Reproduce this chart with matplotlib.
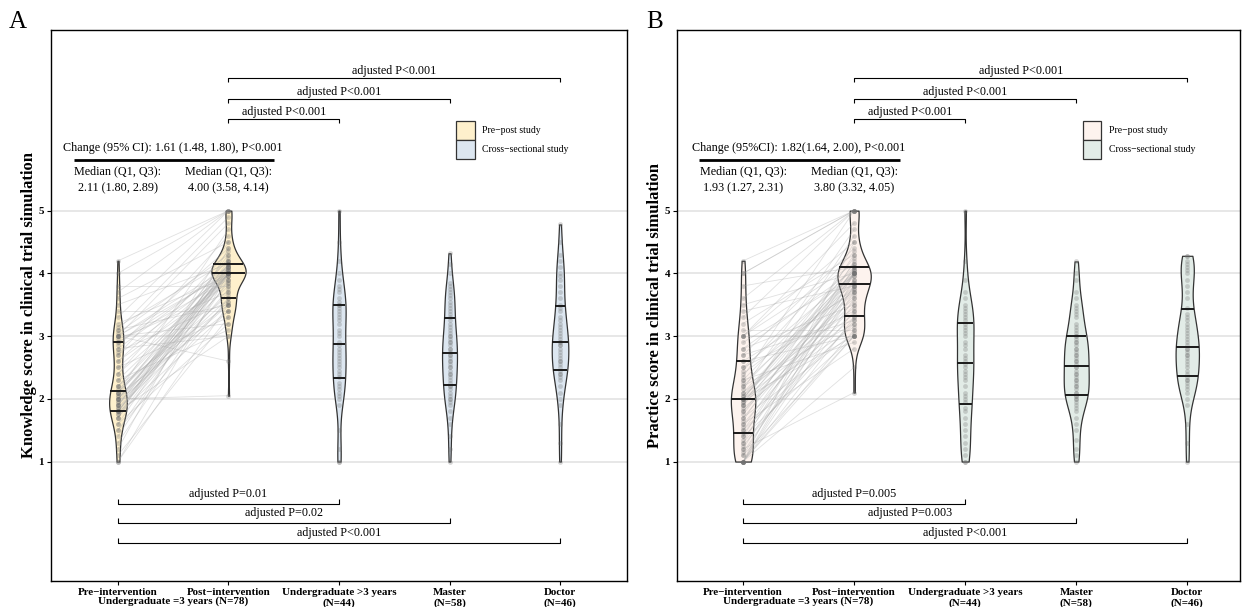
import numpy as np
import matplotlib
matplotlib.use("Agg")
import matplotlib.pyplot as plt
from matplotlib.patches import Patch

plt.rcParams['font.family'] = ['Liberation Serif', 'DejaVu Serif']

# ---------------- data ----------------
categories = ["Pre\u2212intervention", "Post\u2212intervention",
              "Undergraduate >3 years\n(N=44)", "Master\n(N=58)", "Doctor\n(N=46)"]
paired_label = "Undergraduate =3 years (N=78)"
legend_labels = ["Pre\u2212post study", "Cross\u2212sectional study"]

# Panel A: knowledge scores (pre/post paired, same participant order)
knowledge_pre = [
    1.0, 1.0, 1.1, 1.2, 1.3, 1.4, 1.5, 1.5, 1.6, 1.6,
    1.7, 1.7, 1.7, 1.75, 1.75, 1.8, 1.8, 1.8, 1.8, 1.8,
    1.85, 1.85, 1.9, 1.9, 1.9, 1.9, 1.95, 1.95, 2.0, 2.0,
    2.0, 2.0, 2.0, 2.05, 2.05, 2.1, 2.1, 2.1, 2.1, 2.15,
    2.2, 2.2, 2.2, 2.3, 2.3, 2.4, 2.4, 2.5, 2.5, 2.6,
    2.6, 2.7, 2.7, 2.75, 2.8, 2.8, 2.85, 2.9, 2.9, 2.95,
    3.0, 3.0, 3.0, 3.0, 3.0, 3.05, 3.1, 3.1, 3.15, 3.2,
    3.3, 3.4, 3.5, 3.6, 3.7, 3.8, 4.0, 4.2]
knowledge_post = [
    3.5, 4.0, 3.3, 4.4, 3.9, 4.1, 3.6, 4.0, 3.2, 4.15,
    4.5, 3.75, 4.0, 3.4, 4.05, 3.85, 4.1, 3.0, 4.2, 3.95,
    4.0, 3.55, 4.3, 3.7, 4.0, 4.1, 3.5, 4.15, 2.05, 3.9,
    4.0, 4.05, 3.6, 4.25, 3.4, 4.0, 3.8, 4.1, 4.7, 3.65,
    4.0, 3.5, 4.15, 3.1, 4.0, 4.35, 3.95, 4.05, 3.3, 4.2,
    3.85, 4.6, 4.0, 3.55, 4.1, 3.0, 4.4, 3.9, 4.05, 3.7,
    4.8, 2.6, 4.1, 4.0, 3.2, 4.3, 4.9, 3.5, 4.2, 3.95,
    5.0, 3.4, 4.15, 4.5, 5.0, 3.8, 5.0, 5.0]
knowledge_ug3 = [
    1.0, 1.0, 1.2, 1.5, 1.9, 2.0, 2.05, 2.1, 2.15, 2.2, 2.25,
    2.35, 2.4, 2.45, 2.5, 2.55, 2.6, 2.65, 2.7, 2.75, 2.8, 2.85,
    2.9, 3.0, 3.05, 3.1, 3.2, 3.25, 3.3, 3.35, 3.4, 3.45, 3.5,
    3.5, 3.55, 3.6, 3.7, 3.75, 3.8, 3.9, 4.0, 4.2, 4.5, 5.0]
knowledge_master = [
    1.0, 1.2, 1.4, 1.6, 1.7, 1.8, 1.9, 1.95, 2.0, 2.0, 2.05, 2.1, 2.15, 2.2, 2.2,
    2.25, 2.3, 2.35, 2.4, 2.4, 2.45, 2.5, 2.5, 2.55, 2.6, 2.6, 2.65, 2.7, 2.7, 2.75,
    2.8, 2.8, 2.85, 2.9, 2.9, 2.95, 3.0, 3.0, 3.05, 3.1, 3.15, 3.2, 3.25, 3.3, 3.35,
    3.4, 3.45, 3.5, 3.55, 3.6, 3.65, 3.7, 3.75, 3.8, 3.85, 4.0, 4.15, 4.32]
knowledge_doctor = [
    1.0, 1.3, 1.6, 1.9, 2.0, 2.1, 2.2, 2.3, 2.35, 2.4, 2.4, 2.45,
    2.5, 2.55, 2.6, 2.6, 2.65, 2.7, 2.75, 2.8, 2.85, 2.85, 2.9, 2.9,
    2.95, 3.0, 3.05, 3.1, 3.15, 3.2, 3.25, 3.3, 3.4, 3.45, 3.5,
    3.6, 3.7, 3.8, 3.9, 3.95, 4.0, 4.1, 4.2, 4.3, 4.5, 4.78]

# Panel B: practice scores
practice_pre = [
    1.0, 1.0, 1.0, 1.0, 1.0, 1.0, 1.0, 1.0, 1.1, 1.1,
    1.15, 1.2, 1.2, 1.25, 1.3, 1.3, 1.35, 1.4, 1.4, 1.45,
    1.5, 1.5, 1.55, 1.6, 1.6, 1.65, 1.7, 1.7, 1.75, 1.8,
    1.8, 1.85, 1.9, 1.9, 1.9, 1.95, 1.95, 2.0, 2.0, 2.0,
    2.0, 2.0, 2.05, 2.05, 2.1, 2.1, 2.15, 2.2, 2.2, 2.25,
    2.3, 2.3, 2.35, 2.4, 2.45, 2.5, 2.5, 2.6, 2.6, 2.7,
    2.7, 2.8, 2.8, 2.9, 3.0, 3.0, 3.0, 3.0, 3.1, 3.2,
    3.3, 3.4, 3.5, 3.6, 3.8, 4.0, 4.0, 4.2]
practice_post = [
    3.0, 3.8, 2.5, 4.0, 3.3, 3.6, 4.5, 3.1, 3.9, 3.0,
    3.7, 4.0, 2.1, 3.4, 4.2, 3.25, 3.8, 3.0, 4.1, 3.5,
    3.85, 3.2, 4.0, 3.65, 2.8, 4.3, 3.75, 3.05, 4.0, 3.55,
    3.9, 3.3, 4.05, 3.7, 4.6, 3.15, 3.8, 4.0, 3.35, 4.15,
    3.0, 4.25, 3.6, 4.05, 3.95, 3.45, 4.7, 3.2, 4.0, 3.85,
    4.1, 2.9, 5.0, 3.75, 4.35, 3.4, 4.0, 3.7, 3.0, 3.25,
    4.4, 3.5, 4.05, 3.95, 3.0, 4.5, 4.8, 4.15, 3.1, 4.3,
    5.0, 3.8, 4.0, 5.0, 4.1, 5.0, 5.0, 5.0]
practice_ug3 = [
    1.0, 1.0, 1.1, 1.2, 1.3, 1.4, 1.5, 1.6, 1.7, 1.8, 1.85,
    1.95, 2.0, 2.05, 2.1, 2.2, 2.3, 2.35, 2.4, 2.45, 2.5, 2.55,
    2.6, 2.65, 2.7, 2.8, 2.85, 2.9, 3.0, 3.05, 3.1, 3.15, 3.2,
    3.25, 3.3, 3.35, 3.4, 3.45, 3.5, 3.6, 3.7, 3.9, 4.2, 5.0]
practice_master = [
    1.0, 1.1, 1.2, 1.35, 1.5, 1.6, 1.7, 1.8, 1.85, 1.9, 1.95, 2.0, 2.0, 2.05, 2.05,
    2.1, 2.1, 2.15, 2.2, 2.2, 2.25, 2.3, 2.3, 2.35, 2.4, 2.4, 2.45, 2.5, 2.5, 2.55,
    2.6, 2.6, 2.65, 2.7, 2.7, 2.75, 2.8, 2.8, 2.85, 2.9, 2.9, 2.95, 3.0, 3.0, 3.05,
    3.1, 3.15, 3.2, 3.3, 3.35, 3.4, 3.45, 3.5, 3.6, 3.7, 3.9, 4.0, 4.19]
practice_doctor = [
    1.0, 1.3, 1.6, 1.9, 2.0, 2.1, 2.15, 2.2, 2.25, 2.3, 2.3, 2.35,
    2.4, 2.45, 2.5, 2.55, 2.6, 2.65, 2.7, 2.7, 2.75, 2.8, 2.8, 2.85,
    2.9, 2.95, 3.0, 3.05, 3.1, 3.15, 3.2, 3.25, 3.3, 3.35, 3.45,
    3.6, 3.7, 3.8, 3.9, 4.0, 4.05, 4.1, 4.15, 4.2, 4.28, 4.28]

ylabel_A = "Knowledge score in clinical trial simulation"
ylabel_B = "Practice score in clinical trial simulation"
change_A = "Change (95% CI): 1.61 (1.48, 1.80), P<0.001"
change_B = "Change (95%CI): 1.82(1.64, 2.00), P<0.001"
median_A = ["2.11 (1.80, 2.89)", "4.00 (3.58, 4.14)"]
median_B = ["1.93 (1.27, 2.31)", "3.80 (3.32, 4.05)"]
top_p_A = ["adjusted P<0.001", "adjusted P<0.001", "adjusted P<0.001"]   # post vs doctor, master, ug>3
bottom_p_A = ["adjusted P=0.01", "adjusted P=0.02", "adjusted P<0.001"]  # pre vs ug>3, master, doctor
top_p_B = ["adjusted P<0.001", "adjusted P<0.001", "adjusted P<0.001"]
bottom_p_B = ["adjusted P=0.005", "adjusted P=0.003", "adjusted P<0.001"]

# ---------------- styles ----------------
colors_A = ["#FEF0CC", "#DCE6F0"]
colors_B = ["#FDF3EE", "#E2ECE7"]
widths_A = [0.16, 0.31, 0.12, 0.135, 0.15]
widths_B = [0.22, 0.30, 0.15, 0.225, 0.21]
TXT = 8.7
TICK = 7.9

W, H = 1242, 607
fig = plt.figure(figsize=(W / 100, H / 100), dpi=100)
top_px, bot_px = 30, 580.7
axA = fig.add_axes([51 / W, (H - bot_px) / H, 576 / W, (bot_px - top_px) / H])
axB = fig.add_axes([677 / W, (H - bot_px) / H, 563 / W, (bot_px - top_px) / H])


def bracket(ax, x1, x2, y, text, ticks_up):
    d = 0.07 if ticks_up else -0.07
    ax.plot([x1, x1, x2, x2], [y + d, y, y, y + d], color='black', lw=0.8,
            solid_capstyle='butt', zorder=5)
    ax.annotate(text, xy=((x1 + x2) / 2, y), xytext=(0, 3.0 if ticks_up else 0.8),
                textcoords='offset points', ha='center', va='bottom', fontsize=TXT)


def panel(ax, groups, colors, widths, xlim, ylabel, change, medians, top_p, bottom_p):
    pos = [1, 2, 3, 4, 5]
    ax.set_xlim(*xlim)
    ax.set_ylim(-0.9, 7.88)
    for y in [1, 2, 3, 4, 5]:
        ax.axhline(y, color='#E5E5E5', lw=1.3, zorder=0)
    parts = ax.violinplot(groups, positions=pos, widths=widths, showextrema=False,
                          bw_method=0.3)
    fills = [colors[0], colors[0], colors[1], colors[1], colors[1]]
    for body, fc in zip(parts['bodies'], fills):
        body.set_facecolor(fc)
        body.set_edgecolor('#333333')
        body.set_linewidth(0.9)
        body.set_alpha(1)
        body.set_zorder(1)
    # paired lines
    for a, b in zip(groups[0], groups[1]):
        ax.plot([1, 2], [a, b], color='#A8A8A8', alpha=0.35, lw=0.6, zorder=2)
    # points
    for p, vals in zip(pos, groups):
        ax.scatter(np.full(len(vals), p), vals, s=12, color='#707070', alpha=0.28,
                   lw=0, zorder=3)
    # quartile lines
    for p, vals, body in zip(pos, groups, parts['bodies']):
        verts = body.get_paths()[0].vertices
        right = verts[verts[:, 0] >= p]
        order = np.argsort(right[:, 1])
        ry, rx = right[order, 1], right[order, 0] - p
        for q in np.percentile(vals, [25, 50, 75]):
            hw = np.interp(q, ry, rx)
            ax.plot([p - hw, p + hw], [q, q], color='#1A1A1A', lw=1.4, zorder=4,
                    solid_capstyle='butt')
    # annotations
    ax.text(1.5, 6.0, change, ha='center', va='center', fontsize=TXT)
    ax.plot([0.6, 2.41], [5.81, 5.81], color='black', lw=2.0, solid_capstyle='butt')
    for p, m in zip([1, 2], medians):
        ax.text(p, 5.633, "Median (Q1, Q3):", ha='center', va='center', fontsize=TXT)
        ax.text(p, 5.362, m, ha='center', va='center', fontsize=TXT)
    for (x2, y), t in zip([(5, 7.115), (4, 6.78), (3, 6.46)], top_p):
        bracket(ax, 2, x2, y, t, ticks_up=False)
    for (x2, y), t in zip([(3, 0.326), (4, 0.023), (5, -0.296)], bottom_p):
        bracket(ax, 1, x2, y, t, ticks_up=True)
    # legend
    handles = [Patch(facecolor=c, edgecolor='#333333', lw=0.9) for c in colors]
    ax.legend(handles, legend_labels, loc='upper left', bbox_to_anchor=(4.06, 6.43),
              bbox_transform=ax.transData, frameon=False, fontsize=7,
              handlelength=1.9, handleheight=2.6, labelspacing=0.0,
              handletextpad=0.75, borderpad=0, borderaxespad=0)
    # axes
    ax.set_xticks(pos)
    ax.set_xticklabels(categories, fontsize=TICK, fontweight='bold')
    ax.text(1.5, -0.037, paired_label, transform=ax.get_xaxis_transform(),
            ha='center', va='center', fontsize=TICK, fontweight='bold')
    ax.set_yticks([1, 2, 3, 4, 5])
    ax.set_yticklabels(['1', '2', '3', '4', '5'], fontsize=TICK, fontweight='bold')
    ax.tick_params(length=3, width=0.8, pad=2, colors='black')
    ax.set_ylabel(ylabel, fontsize=12, fontweight='bold', labelpad=1)
    for s in ax.spines.values():
        s.set_linewidth(1.0)
        s.set_color('black')


panel(axA, [knowledge_pre, knowledge_post, knowledge_ug3, knowledge_master, knowledge_doctor],
      colors_A, widths_A, (0.394, 5.606), ylabel_A, change_A, median_A, top_p_A, bottom_p_A)
panel(axB, [practice_pre, practice_post, practice_ug3, practice_master, practice_doctor],
      colors_B, widths_B, (0.405, 5.475), ylabel_B, change_B, median_B, top_p_B, bottom_p_B)

fig.text(18 / W, 1 - 22 / H, "A", fontsize=18, ha='center', va='center')
fig.text(655 / W, 1 - 22 / H, "B", fontsize=18, ha='center', va='center')

fig.savefig("out.png", dpi=100)
